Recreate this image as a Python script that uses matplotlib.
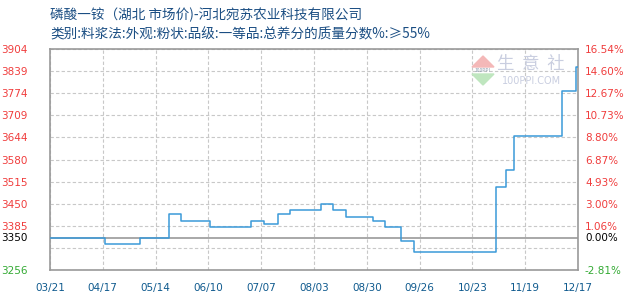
import numpy as np
import pandas as pd
import matplotlib
matplotlib.use('Agg')
import matplotlib.pyplot as plt
import matplotlib.dates as mdates
from matplotlib.patches import Polygon


TITLE = '磷酸一铵（湖北 市场价)-河北宛苏农业科技有限公司'
SUBTITLE = '类别:料浆法:外观:粉状:品级:一等品:总养分的质量分数%:≥55%'

# price change dates and the price valid from that date on
change_dates = [
    '2021-03-21', '2021-04-18', '2021-05-06', '2021-05-21', '2021-05-27',
    '2021-06-11', '2021-07-02', '2021-07-09', '2021-07-16', '2021-07-22',
    '2021-08-07', '2021-08-13', '2021-08-20', '2021-09-03', '2021-09-09',
    '2021-09-17', '2021-09-24', '2021-11-05', '2021-11-10', '2021-11-14',
    '2021-12-09', '2021-12-16', '2021-12-17',
]
prices = [
    3350, 3332, 3350, 3420, 3400,
    3383, 3400, 3392, 3420, 3433,
    3450, 3433, 3412, 3400, 3383,
    3340, 3310, 3500, 3550, 3650,
    3780, 3850, 3850,
]

start_date = '2021-03-21'
end_date = '2021-12-17'
y_min = 3256
y_max = 3904
base_price = 3350

x_labels = ['03/21', '04/17', '05/14', '06/10', '07/07', '08/03',
            '08/30', '09/26', '10/23', '11/19', '12/17']
left_labels = ['3256', '', '3385', '3450', '3515', '3580',
               '3644', '3709', '3774', '3839', '3904']
right_labels = ['-2.81%', '', '1.06%', '3.00%', '4.93%', '6.87%',
                '8.80%', '10.73%', '12.67%', '14.60%', '16.54%']

RED = '#f03c3c'
GREEN = '#33aa33'
BLUE_TEXT = '#0f5a8e'
LINE_BLUE = '#3a9ad9'
GRID = '#c8c8c8'
FRAME = '#999999'

plt.rcParams['font.family'] = ['Noto Sans CJK SC', 'DejaVu Sans']

fig = plt.figure(figsize=(6.3, 3.0), dpi=100)
ax = fig.add_axes([50 / 630, 30 / 300, 528 / 630, 221 / 300])

dates = pd.to_datetime(change_dates)
ax.plot(dates, prices, drawstyle='steps-post', color=LINE_BLUE, lw=1.1, zorder=3)

ax.axhline(base_price, color=FRAME, lw=1.2, zorder=2)

x0 = mdates.date2num(pd.Timestamp(start_date))
x1 = mdates.date2num(pd.Timestamp(end_date))
ax.set_xlim(x0, x1)
ax.set_ylim(y_min, y_max)

xticks = np.linspace(x0, x1, len(x_labels))
yticks = np.linspace(y_min, y_max, len(left_labels))

ax.set_xticks(xticks)
ax.set_xticklabels(x_labels, fontsize=7.5, color=BLUE_TEXT, family='DejaVu Sans')
ax.set_yticks(yticks)
ax.set_yticklabels(left_labels, fontsize=7.5, color=RED, family='DejaVu Sans')
ax.tick_params(axis='both', length=0)
ax.tick_params(axis='x', pad=9)
ax.tick_params(axis='y', pad=16)
ax.get_yticklabels()[0].set_color(GREEN)
ax.grid(True, color=GRID, ls=(0, (3, 2)), lw=0.8)
for s in ax.spines.values():
    s.set_color(FRAME)
    s.set_linewidth(1.2)

# extra left label for the base price line
ax.text(-22 / 528, (base_price - y_min) / (y_max - y_min), str(base_price),
        transform=ax.transAxes, ha='right', va='center', fontsize=7.5,
        color='black', family='DejaVu Sans')

ax2 = ax.twinx()
ax2.set_ylim(y_min, y_max)
ax2.set_yticks(yticks)
ax2.set_yticklabels(right_labels, fontsize=7.5, color=RED, family='DejaVu Sans')
ax2.get_yticklabels()[0].set_color(GREEN)
ax2.tick_params(axis='y', length=0, pad=5)
for s in ax2.spines.values():
    s.set_visible(False)
ax.text(1 + 7 / 528, (base_price - y_min) / (y_max - y_min), '0.00%',
        transform=ax.transAxes, ha='left', va='center', fontsize=7.5,
        color='black', family='DejaVu Sans')

fig.text(50 / 630, 1 - 15 / 300, TITLE, fontsize=9.8, color='#1b4e83', va='center')
fig.text(50 / 630, 1 - 34 / 300, SUBTITLE, fontsize=9.8, color='#1b4e83', va='center')


# faint 100ppi watermark
def px(x, y):
    return (x / 630, 1 - y / 300)


fig.patches.append(Polygon([px(472, 67), px(494, 67), px(483, 56)], closed=True,
                           transform=fig.transFigure, color='#f4b8b8', zorder=5))
fig.patches.append(Polygon([px(472, 74), px(494, 74), px(483, 85)], closed=True,
                           transform=fig.transFigure, color='#bfe6bf', zorder=5))
fig.text(*px(483, 70), '100PPI', fontsize=3.5, color='#8899aa', ha='center', va='center')
fig.text(*px(531, 64), '生  意  社', fontsize=12.5, color='#c9cee0', ha='center', va='center')
fig.text(*px(532, 81), '100PPI.COM', fontsize=7, color='#c9cee0', ha='center', va='center',
         family='DejaVu Sans')

fig.savefig('out.png', dpi=100)
